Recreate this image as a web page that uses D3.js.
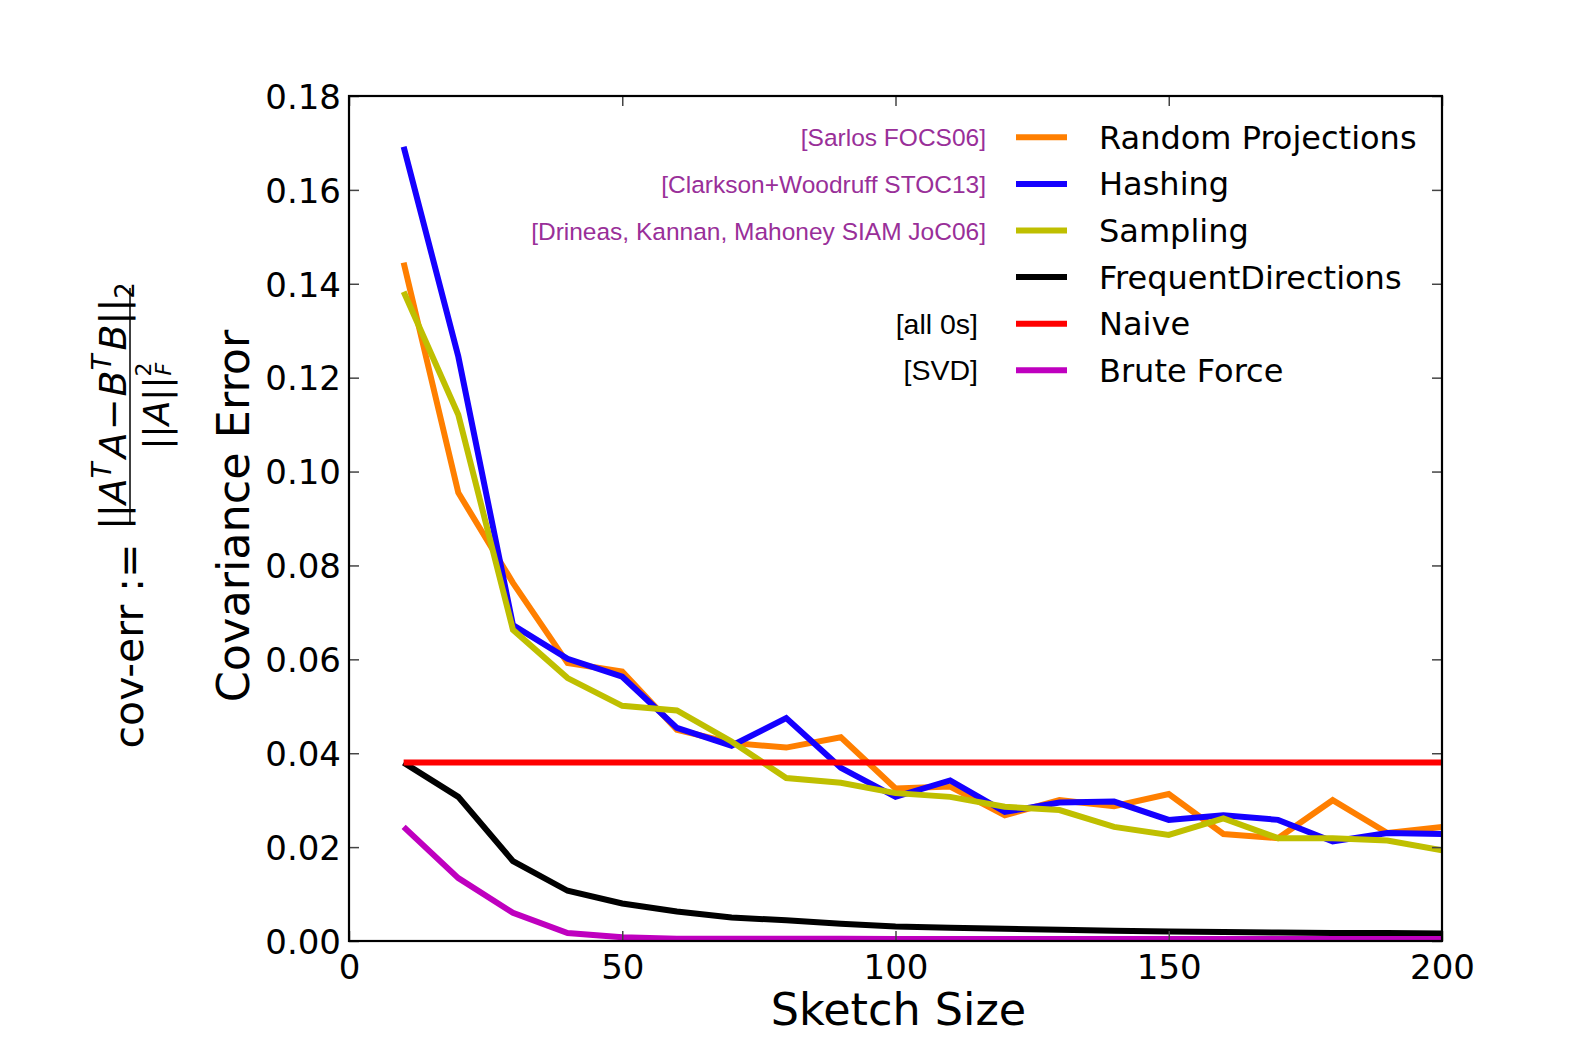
<!DOCTYPE html>
<html>
<head>
<meta charset="utf-8">
<script src="https://cdn.jsdelivr.net/npm/d3@7"></script>
<style>
  html, body { margin: 0; padding: 0; background: #fff; }
  svg { display: block; }
</style>
</head>
<body>
<svg id="chart" width="1576" height="1046"></svg>
<script>
// ---------------- DATA ----------------
const sketchSizes = [10,20,30,40,50,60,70,80,90,100,110,120,130,140,150,160,170,180,190,200];
const randomProjections = [0.1445,0.0955,0.0763,0.0592,0.0574,0.0450,0.0422,0.0412,0.0434,0.0325,0.0329,0.0268,0.0300,0.0287,0.0313,0.0228,0.0219,0.0300,0.0230,0.0243];
const hashing = [0.1692,0.1245,0.0673,0.0601,0.0563,0.0454,0.0416,0.0475,0.0369,0.0307,0.0342,0.0275,0.0295,0.0297,0.0258,0.0268,0.0258,0.0212,0.0230,0.0228];
const sampling = [0.1383,0.1121,0.0663,0.0560,0.0501,0.0491,0.0425,0.0347,0.0337,0.0315,0.0307,0.0286,0.0279,0.0243,0.0226,0.0261,0.0219,0.0219,0.0214,0.0193];
const frequentDirections = [0.0380,0.0307,0.0170,0.0107,0.0080,0.0063,0.0050,0.0044,0.0037,0.0031,0.0028,0.0026,0.0024,0.0022,0.0020,0.0019,0.0018,0.0017,0.0017,0.0016];
const naive = [0.038,0.038,0.038,0.038,0.038,0.038,0.038,0.038,0.038,0.038,0.038,0.038,0.038,0.038,0.038,0.038,0.038,0.038,0.038,0.038];
const bruteForce = [0.0243,0.0134,0.0060,0.0017,0.0008,0.0005,0.0005,0.0005,0.0005,0.0004,0.0004,0.0004,0.0004,0.0004,0.0004,0.0004,0.0004,0.0004,0.0004,0.0004];

const seriesNames = ["Random Projections","Hashing","Sampling","FrequentDirections","Naive","Brute Force"];
const seriesColors = ["#ff7f00","#1500ff","#bfbf00","#000000","#ff0000","#bf00bf"];
const seriesNotes = ["[Sarlos FOCS06]","[Clarkson+Woodruff STOC13]","[Drineas, Kannan, Mahoney SIAM JoC06]","","[all 0s]","[SVD]"];
const seriesValues = [randomProjections, hashing, sampling, frequentDirections, naive, bruteForce];

const xTicks = [0,50,100,150,200];
const yTicks = [0,0.02,0.04,0.06,0.08,0.10,0.12,0.14,0.16,0.18];
const xLabel = "Sketch Size";
const yLabel = "Covariance Error";

// ---------------- LAYOUT ----------------
const svg = d3.select("#chart");
const L = 349, R = 1442, T = 96, B = 941;
const x = d3.scaleLinear().domain([0,200]).range([L,R]);
const y = d3.scaleLinear().domain([0,0.18]).range([B,T]);
const fontMain = "'DejaVu Sans', sans-serif";
const fontNote = "'Liberation Sans', Arial, sans-serif";

// lines (clipped to plot)
svg.append("clipPath").attr("id","clip").append("rect")
  .attr("x",L).attr("y",T).attr("width",R-L).attr("height",B-T);

const line = d3.line().x(d => x(d[0])).y(d => y(d[1]));
const gLines = svg.append("g").attr("clip-path","url(#clip)");
seriesValues.forEach((vals,i) => {
  gLines.append("path")
    .datum(sketchSizes.map((s,j) => [s, vals[j]]))
    .attr("d", line)
    .attr("fill","none")
    .attr("stroke", seriesColors[i])
    .attr("stroke-width", 6)
    .attr("stroke-linejoin","miter")
    .attr("stroke-linecap","butt");
});

// axes: ticks inside, on all four sides
const tickLen = 10;
const axB = svg.append("g").attr("transform",`translate(0,${B})`)
  .call(d3.axisBottom(x).tickValues(xTicks).tickSize(-tickLen).tickPadding(14).tickFormat(d3.format("d")));
const axT = svg.append("g").attr("transform",`translate(0,${T})`)
  .call(d3.axisTop(x).tickValues(xTicks).tickSize(-tickLen).tickFormat(""));
const axL = svg.append("g").attr("transform",`translate(${L},0)`)
  .call(d3.axisLeft(y).tickValues(yTicks).tickSize(-tickLen).tickPadding(8).tickFormat(d3.format(".2f")));
const axR = svg.append("g").attr("transform",`translate(${R},0)`)
  .call(d3.axisRight(y).tickValues(yTicks).tickSize(-tickLen).tickFormat(""));

[axB,axT,axL,axR].forEach(a => {
  a.select(".domain").remove();
  a.selectAll(".tick line").attr("stroke","#444").attr("stroke-width",1.5);
  a.selectAll(".tick text").attr("font-family",fontMain).attr("font-size",34).attr("fill","#000");
});
axB.selectAll(".tick text").attr("dy","0.71em");
axL.selectAll(".tick text").attr("dy","0.36em");

// frame
svg.append("rect").attr("x",L).attr("y",T).attr("width",R-L).attr("height",B-T)
  .attr("fill","none").attr("stroke","#000").attr("stroke-width",2.2);

// axis labels
svg.append("text").attr("x",(L+R)/2 + 3).attr("y",1025)
  .attr("text-anchor","middle").attr("font-family",fontMain).attr("font-size",44.5)
  .text(xLabel);
svg.append("text").attr("transform","translate(249,516) rotate(-90)")
  .attr("text-anchor","middle").attr("font-family",fontMain).attr("font-size",44.5)
  .text(yLabel);

// formula label (rotated)
const fg = svg.append("g").attr("transform","translate(130,406) rotate(-90)")
  .attr("font-family",fontMain).attr("fill","#000");
fg.append("text").attr("x",-240).attr("y",13).attr("text-anchor","middle")
  .attr("font-size",41).text("cov-err :=");
fg.append("line").attr("x1",-117).attr("x2",118).attr("y1",0).attr("y2",0)
  .attr("stroke","#000").attr("stroke-width",1.5);
const num = fg.append("text").attr("x",0).attr("y",-4).attr("text-anchor","middle").attr("font-size",38);
num.append("tspan").text("||");
num.append("tspan").attr("font-style","italic").text("A");
num.append("tspan").attr("font-style","italic").attr("font-size",26).attr("dy",-15).text("T");
num.append("tspan").attr("font-style","italic").attr("dx",4).attr("dy",15).text("A");
num.append("tspan").attr("dx",2).text("\u2212");
num.append("tspan").attr("dx",2).attr("font-style","italic").text("B");
num.append("tspan").attr("font-style","italic").attr("font-size",26).attr("dy",-15).text("T");
num.append("tspan").attr("font-style","italic").attr("dx",4).attr("dy",15).text("B");
num.append("tspan").text("||");
num.append("tspan").attr("font-size",26).attr("dy",8).text("2");
const den = fg.append("text").attr("x",0).attr("y",39).attr("text-anchor","middle").attr("font-size",36);
den.append("tspan").text("||");
den.append("tspan").attr("font-style","italic").text("A");
den.append("tspan").text("||");
den.append("tspan").attr("font-size",22).attr("dy",-18).text("2");
den.append("tspan").attr("font-size",22).attr("font-style","italic").attr("dx",-13).attr("dy",20).text("F");

// legend
const legY0 = 137.3, legDy = 46.6;
seriesNames.forEach((name,i) => {
  const yy = legY0 + i*legDy;
  svg.append("line").attr("x1",1016).attr("x2",1067).attr("y1",yy).attr("y2",yy)
    .attr("stroke",seriesColors[i]).attr("stroke-width",6);
  svg.append("text").attr("x",1099).attr("y",yy + 11.5)
    .attr("font-family",fontMain).attr("font-size",32).text(name);
  if (seriesNotes[i]) {
    const isCite = i < 3;
    svg.append("text").attr("x", isCite ? 986 : 978).attr("y", yy + (isCite ? 9 : 10))
      .attr("text-anchor","end").attr("font-family",fontNote)
      .attr("font-size", isCite ? 24.5 : 28.5)
      .attr("fill", isCite ? "#992f99" : "#000")
      .text(seriesNotes[i]);
  }
});
</script>
</body>
</html>
